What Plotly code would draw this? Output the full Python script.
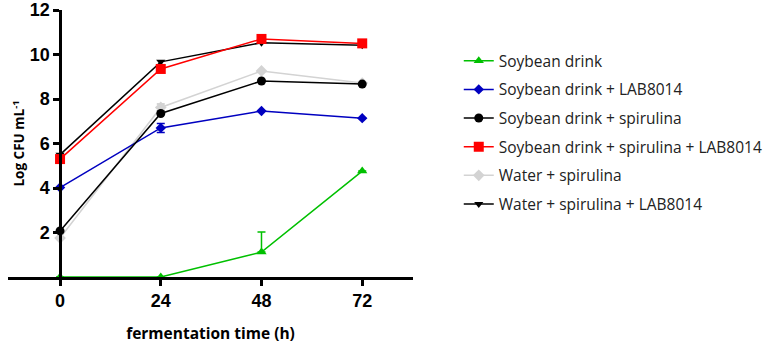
import plotly.graph_objects as go

hours = [0, 24, 48, 72]
x_tick_labels = ["0", "24", "48", "72"]
y_tick_vals = [2, 4, 6, 8, 10, 12]

soy = [0.0, 0.0, 1.12, 4.76]
soy_err_plus = [0, 0, 0.9, 0]
soy_lab = [4.02, 6.7, 7.46, 7.14]
soy_lab_err = [0, 0.2, 0, 0]
soy_spi = [2.07, 7.35, 8.81, 8.67]
soy_spi_lab = [5.3, 9.35, 10.7, 10.5]
water_spi = [1.75, 7.62, 9.26, 8.72]
water_spi_err_plus = [0, 0.15, 0, 0]
water_spi_err_minus = [1.75, 0.15, 0, 0]
water_spi_lab = [5.5, 9.67, 10.53, 10.42]

names = ["Soybean drink", "Soybean drink + LAB8014", "Soybean drink + spirulina",
         "Soybean drink + spirulina + LAB8014", "Water + spirulina",
         "Water + spirulina + LAB8014"]

fig = go.Figure()

def add(y, name, color, symbol, size, group, err=None):
    fig.add_trace(go.Scatter(
        x=hours, y=y, name=name, mode="lines+markers",
        line=dict(color=color, width=1.5),
        marker=dict(color=color, symbol=symbol, size=size, line=dict(width=0)),
        error_y=err, cliponaxis=False, legendgroup=group,
    ))

add(water_spi, names[4], "#d3d3d3", "diamond", 9, "e",
    dict(type="data", symmetric=False, array=water_spi_err_plus,
         arrayminus=water_spi_err_minus, color="#c8c8c8", thickness=1.5, width=4))
add(soy_lab, names[1], "#0000c0", "diamond", 8, "b",
    dict(type="data", array=soy_lab_err, color="#0000c0", thickness=1.5, width=4))
add(soy_spi, names[2], "#000000", "circle", 9, "c")
add(water_spi_lab, names[5], "#000000", "triangle-down", 8, "f")
add(soy_spi_lab, names[3], "#ff0000", "square", 10, "d")
add(soy, names[0], "#00c000", "triangle-up", 9, "a",
    dict(type="data", symmetric=False, array=soy_err_plus,
         arrayminus=[0, 0, 0, 0], color="#00c000", thickness=1.5, width=4))

order = {n: i for i, n in enumerate(names)}
for tr in fig.data:
    tr.legendrank = order[tr.name] + 1

fig.update_layout(
    width=770, height=344,
    margin=dict(l=8, r=357, t=10, b=67, autoexpand=False),
    plot_bgcolor="white", paper_bgcolor="white",
    showlegend=True,
    legend=dict(x=1.113, y=0.872, xanchor="left", yanchor="top",
                font=dict(family="Open Sans", size=15.5, color="#222"),
                tracegroupgap=5.5, bgcolor="rgba(0,0,0,0)"),
    xaxis=dict(range=[-12.4, 84.1], tickvals=hours, ticktext=x_tick_labels,
               automargin=False,
               showline=True, linecolor="black", linewidth=2.5,
               ticks="outside", ticklen=6, tickwidth=2.5, tickcolor="black",
               showgrid=False, zeroline=False,
               tickfont=dict(family="Liberation Sans", size=18, color="black", weight="bold"),
               title=dict(text="fermentation time (h)", standoff=25,
                          font=dict(family="Open Sans", size=15.5, color="black", weight="bold"))),
    yaxis=dict(range=[0, 12], tickvals=y_tick_vals,
               anchor="free", position=12.4 / 96.5, automargin=False,
               ticklabeloverflow="allow",
               showline=True, linecolor="black", linewidth=2.5,
               ticks="outside", ticklen=6, tickwidth=2.5, tickcolor="black",
               showgrid=False, zeroline=False,
               tickfont=dict(family="Liberation Sans", size=18, color="black", weight="bold"),
               title=dict(text="Log CFU mL<sup>-1</sup>", standoff=0,
                          font=dict(family="Open Sans", size=13.5, color="black", weight="bold"))),
)

fig.write_html("out.html", config={"displayModeBar": False},
               post_script="document.body.style.margin='0';")
